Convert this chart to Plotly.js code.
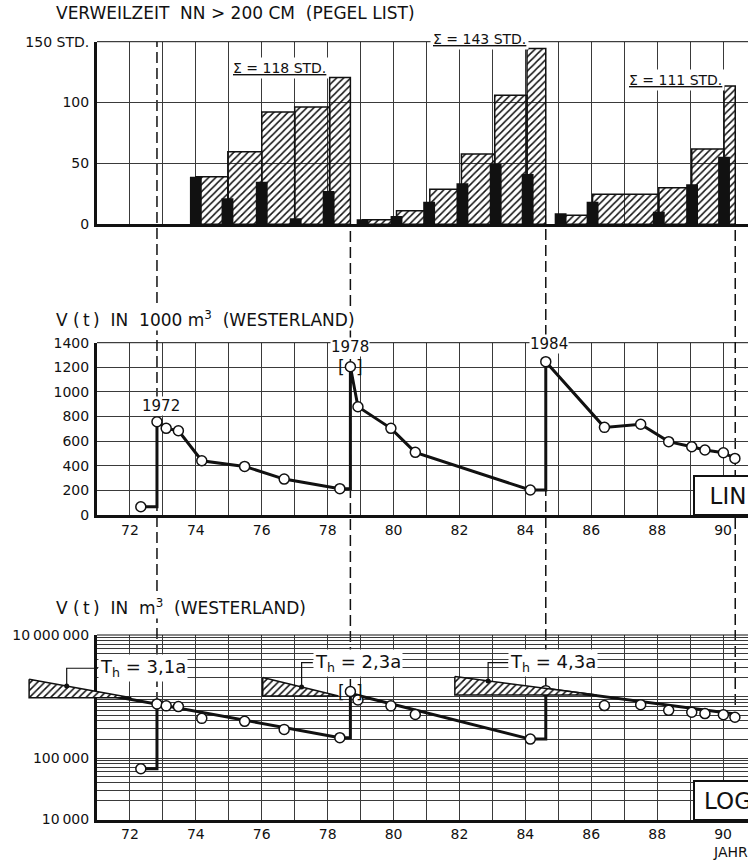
<!DOCTYPE html>
<html><head><meta charset="utf-8">
<script src="https://cdn.plot.ly/plotly-3.0.1.min.js"></script>
<style>html,body{margin:0;padding:0;background:#fff;}#chart{width:748px;height:860px;}</style>
</head><body><div id="chart"></div>
<script>
// ================= DATA =================
// Top panel: dwell time above NN+200 cm (gauge List), hours per winter
const winterYears = [74.00, 74.96, 76.00, 77.03, 78.03, 79.06, 80.09, 81.08, 82.09, 83.10, 84.07, 85.07, 86.04, 88.05, 89.06, 90.03];
const winterHours = [39, 21.4, 35, 4.9, 27.4, 4.1, 6.8, 18.6, 33.7, 49.5, 41.3, 9.0, 18.6, 10.4, 32.8, 55.5];
// cumulative hours since the last nourishment (hatched steps)
const cumStart = [74.00, 74.97, 76.00, 77.00, 78.06, 79.06, 80.09, 81.10, 82.06, 83.07, 84.05, 85.07, 86.04, 88.05, 89.05, 90.03];
const cumEnd   = [74.97, 76.00, 77.00, 78.06, 78.69, 80.09, 81.10, 82.06, 83.07, 84.05, 84.62, 86.04, 88.05, 89.05, 90.03, 90.37];
const cumHours = [39, 59.5, 92.3, 96.4, 120.5, 3.8, 11.2, 28.7, 57.7, 106, 144.5, 7.5, 24.6, 30, 61.8, 113.6];
const periodSums = [118, 143, 111];

// Nourishment events
const eventX = [72.82, 78.69, 84.62, 90.37];
const eventLabels = ['1972', '1978', '1984'];

// Volume V(t) at Westerland, 1000 m3
const measX  = [72.33, 72.82, 73.10, 73.47, 74.18, 75.48, 76.68, 78.37, 78.69, 78.92, 79.92, 80.66, 84.15, 84.62, 86.40, 87.50, 88.35, 89.05, 89.45, 90.01, 90.36];
const volume = [67, 758, 704, 685, 441, 395, 292, 214, 1205, 880, 704, 509, 203, 1246, 712, 737, 596, 555, 528, 506, 460];

// Exponential decay fits (log panel), m3
const fitX0 = [71.0, 78.69, 84.62];
const fitV0 = [1135000, 1120000, 1330000];
const fitX1 = [78.37, 84.15, 90.36];
const fitV1 = [214000, 203000, 520000];

// Half-life wedges
const wedgeX0 = [68.94, 76.03, 81.86];
const wedgeV0 = [1914000, 2030000, 2110000];
const halfLife = [3.1, 2.3, 4.3];

// Axis ticks
const gridYears = [71,72,73,74,75,76,77,78,79,80,81,82,83,84,85,86,87,88,89,90];
const labelYears = [72,74,76,78,80,82,84,86,88,90];
const topTicks = [0, 50, 100, 150];
const topTickText = ['0', '50', '100', '150 STD.'];
const linTicks = [0, 200, 400, 600, 800, 1000, 1200, 1400];
const logLabels = {'10000': '10\u2009000', '100000': '100\u2009000', '10000000': '10\u2009000\u2009000'};

// ================= LAYOUT HELPERS =================
const FONT = 'DejaVu Sans, Noto Sans, Arial, sans-serif';
const W = 748, H = 860;
const py = p => 1 - p / H;
const xDom = [97 / W, 1];
const xRange = [71.0, 71.0 + (W - 97) / 32.95];
const topDom = [py(224.3), py(41.7)];
const midDom = [py(515), py(342.7)];
const logDom = [py(819.5), py(635)];
const ppu = W * (xDom[1] - xDom[0]) / (xRange[1] - xRange[0]);
const x4Range = [xRange[0] - xDom[0] * W / ppu, xRange[1] + (1 - xDom[1]) * W / ppu];
const xp = v => xDom[0] + (v - xRange[0]) / (xRange[1] - xRange[0]) * (xDom[1] - xDom[0]);
const yTopP = v => topDom[0] + v / 150 * (topDom[1] - topDom[0]);
const INK = '#111';
const GRID = '#3a3a3a';
const NB = '\u00a0';

const logTickVals = [], logTickText = [];
[1e4, 1e5, 1e6].forEach(d => { for (let k = 1; k <= 9; k++) { const v = d * k; logTickVals.push(v); logTickText.push(logLabels[String(v)] || ''); } });
logTickVals.push(1e7); logTickText.push(logLabels['10000000']);

// ================= TRACES =================
const traces = [];
traces.push({
  type: 'bar', xaxis: 'x', yaxis: 'y',
  x: cumStart.map((s, i) => (s + cumEnd[i]) / 2),
  y: cumHours, width: cumStart.map((s, i) => cumEnd[i] - s), base: 0,
  marker: {color: INK, pattern: {shape: '/', fgcolor: INK, bgcolor: 'rgba(0,0,0,0)', size: 5, solidity: 0.3, fillmode: 'replace'},
           line: {color: INK, width: 1.5}},
  hoverinfo: 'skip'
});
traces.push({
  type: 'bar', xaxis: 'x', yaxis: 'y', x: winterYears, y: winterHours, width: 0.36, base: 0,
  marker: {color: INK, line: {width: 0}}, hoverinfo: 'skip'
});

const peakEvents = eventX.slice(0, eventLabels.length);
const isPeak = i => i > 0 && peakEvents.some(e => Math.abs(e - measX[i]) < 0.001);
const linLX = [], linLY = [];
measX.forEach((x, i) => { if (isPeak(i)) { linLX.push(x); linLY.push(volume[i - 1]); } linLX.push(x); linLY.push(volume[i]); });
traces.push({type: 'scatter', mode: 'lines', xaxis: 'x2', yaxis: 'y2', x: linLX, y: linLY,
  line: {color: INK, width: 3}, hoverinfo: 'skip'});
traces.push({type: 'scatter', mode: 'markers', xaxis: 'x2', yaxis: 'y2', x: measX, y: volume,
  marker: {symbol: 'circle', size: 10, color: '#fff', line: {color: INK, width: 1.5}}, hoverinfo: 'skip'});

const fX = [], fY = [];
fitX0.forEach((x, k) => { fX.push(x, fitX1[k], null); fY.push(fitV0[k], fitV1[k], null); });
traces.push({type: 'scatter', mode: 'lines', xaxis: 'x3', yaxis: 'y3', x: fX, y: fY,
  line: {color: INK, width: 3}, hoverinfo: 'skip'});
const sX = [], sY = [];
measX.forEach((x, i) => { if (isPeak(i)) { sX.push(measX[i - 1], x, x, null); sY.push(volume[i - 1] * 1000, volume[i - 1] * 1000, volume[i] * 1000, null); } });
traces.push({type: 'scatter', mode: 'lines', xaxis: 'x3', yaxis: 'y3', x: sX, y: sY,
  line: {color: INK, width: 3}, hoverinfo: 'skip'});
traces.push({type: 'scatter', mode: 'markers', xaxis: 'x3', yaxis: 'y3', x: measX, y: volume.map(v => v * 1000),
  marker: {symbol: 'circle', size: 10, color: '#fff', line: {color: INK, width: 1.5}}, hoverinfo: 'skip'});

wedgeX0.forEach((x0, k) => {
  const v0 = wedgeV0[k], th = halfLife[k];
  traces.push({type: 'scatter', mode: 'lines', xaxis: 'x4', yaxis: 'y4',
    x: [x0, x0, x0 + th, x0], y: [v0, v0 / 2, v0 / 2, v0], fill: 'toself', fillcolor: '#fff',
    fillpattern: {shape: '/', fgcolor: INK, bgcolor: '#fff', size: 5, solidity: 0.3},
    line: {color: INK, width: 1.5}, hoverinfo: 'skip'});
});
const leadDotX = [70.08, 77.21, 82.87];
const leadEndX = [71.03, 77.55, 83.48];
const leadTopV = [2880000, 3560000, 3560000];
const lX = [], lY = [], dX = [], dY = [];
wedgeX0.forEach((x0, k) => {
  const dv = wedgeV0[k] * Math.pow(2, -(leadDotX[k] - x0) / halfLife[k]);
  lX.push(leadDotX[k], leadDotX[k], leadEndX[k], null); lY.push(dv, leadTopV[k], leadTopV[k], null);
  dX.push(leadDotX[k]); dY.push(dv);
});
traces.push({type: 'scatter', mode: 'lines', xaxis: 'x4', yaxis: 'y4', x: lX, y: lY, line: {color: INK, width: 1.2}, hoverinfo: 'skip'});
traces.push({type: 'scatter', mode: 'markers', xaxis: 'x4', yaxis: 'y4', x: dX, y: dY, marker: {color: INK, size: 5}, hoverinfo: 'skip'});

// ================= AXES =================
const tickFont = {family: FONT, size: 14, color: INK};
function xAxis(anchor, labels) {
  return {domain: xDom, range: xRange, anchor: anchor, showline: true, linewidth: 3, linecolor: INK,
    tickmode: 'array', tickvals: gridYears, ticktext: gridYears.map(y => labelYears.includes(y) ? String(y) : ''),
    ticklabelshift: ppu / 2, ticks: '', showgrid: true, gridcolor: GRID, gridwidth: 1, zeroline: false,
    showticklabels: labels, tickfont: tickFont, ticklabeloverflow: 'allow', fixedrange: true};
}
function yAxis(anchor, dom) {
  return {domain: dom, anchor: anchor, showline: true, linewidth: 3, linecolor: INK, ticks: '',
    showgrid: true, gridcolor: GRID, gridwidth: 1, zeroline: false, tickfont: tickFont, ticklabelstandoff: 2, fixedrange: true};
}
const layout = {
  width: W, height: H, margin: {l: 0, r: 0, t: 0, b: 0},
  paper_bgcolor: '#fff', plot_bgcolor: 'rgba(0,0,0,0)', showlegend: false, hovermode: false,
  barmode: 'overlay', font: {family: FONT, color: INK},
  xaxis: xAxis('y', false),
  xaxis2: xAxis('y2', true),
  xaxis3: xAxis('y3', true),
  xaxis4: {domain: [0, 1], range: x4Range, anchor: 'y4', visible: false, fixedrange: true},
  yaxis: Object.assign(yAxis('x', topDom), {range: [0, 150], tickmode: 'array', tickvals: topTicks, ticktext: topTickText}),
  yaxis2: Object.assign(yAxis('x2', midDom), {range: [0, 1400], tickmode: 'array', tickvals: linTicks, ticktext: linTicks.map(String)}),
  yaxis3: Object.assign(yAxis('x3', logDom), {type: 'log', range: [4, 7], tickmode: 'array', tickvals: logTickVals, ticktext: logTickText}),
  yaxis4: {domain: logDom, type: 'log', range: [4, 7], anchor: 'x4', visible: false, fixedrange: true},
  shapes: [], annotations: []
};

const dashTopPx = [41.7, 224.3, 224.3, 224.3];
const dashBotPx = [703, 690, 688, 705];
eventX.forEach((x, k) => layout.shapes.push({type: 'line', layer: 'below', xref: 'x2', yref: 'paper',
  x0: x, x1: x, y0: py(dashBotPx[k]), y1: py(dashTopPx[k]), line: {color: INK, width: 1.5, dash: '11px,5px'}}));
[['x', 'y'], ['x2', 'y2'], ['x3', 'y3']].forEach(([xa, ya]) => layout.shapes.push({type: 'line', xref: xa + ' domain', yref: ya + ' domain',
  x0: 0, x1: 1, y0: 1, y1: 1, line: {color: INK, width: 1}}));

const A = layout.annotations;
const ann = o => A.push(Object.assign({showarrow: false, font: {family: FONT, size: 15, color: INK}}, o));
const titleFont = {family: FONT, size: 17, color: INK};
ann({xref: 'paper', yref: 'paper', x: 55 / W, y: py(13), xanchor: 'left', yanchor: 'middle', font: titleFont, bgcolor: '#fff', borderpad: 0,
  text: 'VERWEILZEIT' + NB + NB + 'NN > 200 CM' + NB + NB + '(PEGEL LIST)'});
ann({xref: 'paper', yref: 'paper', x: 55 / W, y: py(319), xanchor: 'left', yanchor: 'middle', font: titleFont, bgcolor: '#fff', borderpad: 0,
  text: 'V' + NB + '(\u2009t\u2009)' + NB + NB + 'IN' + NB + NB + '1000' + NB + 'm<sup>3</sup>' + NB + NB + '(WESTERLAND)'});
ann({xref: 'paper', yref: 'paper', x: 55 / W, y: py(607), xanchor: 'left', yanchor: 'middle', font: titleFont, bgcolor: '#fff', borderpad: 0,
  text: 'V' + NB + '(\u2009t\u2009)' + NB + NB + 'IN' + NB + NB + 'm<sup>3</sup>' + NB + NB + '(WESTERLAND)'});
const sumPos = [[76.55, 128.4], [82.62, 152.2], [88.57, 118.5]];
periodSums.forEach((s, k) => ann({xref: 'paper', yref: 'paper', x: xp(sumPos[k][0]), y: yTopP(sumPos[k][1]),
  xanchor: 'center', yanchor: 'middle', bgcolor: '#fff', borderpad: 2, text: '<u>\u03a3 = ' + s + ' STD.</u>', font: {family: FONT, size: 14, color: INK}}));
const peakIdx = measX.map((x, i) => isPeak(i) ? i : -1).filter(i => i >= 0);
const yrShift = [[4, 16], [0, 20], [3, 18]];
peakIdx.forEach((i, k) => ann({xref: 'x2', yref: 'y2', x: measX[i], y: volume[i], xshift: yrShift[k][0], yshift: yrShift[k][1],
  text: eventLabels[k], bgcolor: '#fff', borderpad: 0, font: {family: FONT, size: 15, color: INK}}));
const bi = peakIdx[1];
[['[', -9], [']', 9]].forEach(([t, s]) => {
  ann({xref: 'x2', yref: 'y2', x: measX[bi], y: volume[bi], xshift: s, text: t, font: {family: FONT, size: 17, color: INK}});
  ann({xref: 'x3', yref: 'y3', x: measX[bi], y: Math.log10(volume[bi] * 1000), xshift: s, text: t, font: {family: FONT, size: 17, color: INK}});
});
halfLife.forEach((th, k) => ann({xref: 'x4', yref: 'y4', x: leadEndX[k], y: Math.log10(leadTopV[k]), xanchor: 'left', yanchor: 'middle',
  bgcolor: '#fff', borderpad: 1, text: 'T<sub>h</sub>' + NB + '=' + NB + String(th).replace('.', ',') + 'a', font: {family: FONT, size: 18, color: INK}}));
ann({xref: 'paper', yref: 'paper', x: 693 / W, y: py(516), xanchor: 'left', yanchor: 'bottom', text: 'LIN',
  width: 64, height: 35, align: 'center', bgcolor: '#fff', bordercolor: INK, borderwidth: 2, borderpad: 1, font: {family: FONT, size: 23, color: INK}});
ann({xref: 'paper', yref: 'paper', x: 693 / W, y: py(821), xanchor: 'left', yanchor: 'bottom', text: 'LOG',
  width: 64, height: 35, align: 'center', bgcolor: '#fff', bordercolor: INK, borderwidth: 2, borderpad: 1, font: {family: FONT, size: 23, color: INK}});
ann({xref: 'paper', yref: 'paper', x: 711 / W, y: py(852), xanchor: 'left', yanchor: 'middle', text: 'JAHR', font: {family: FONT, size: 14, color: INK}});

Plotly.newPlot('chart', traces, layout, {staticPlot: true, displayModeBar: false});
</script></body></html>
